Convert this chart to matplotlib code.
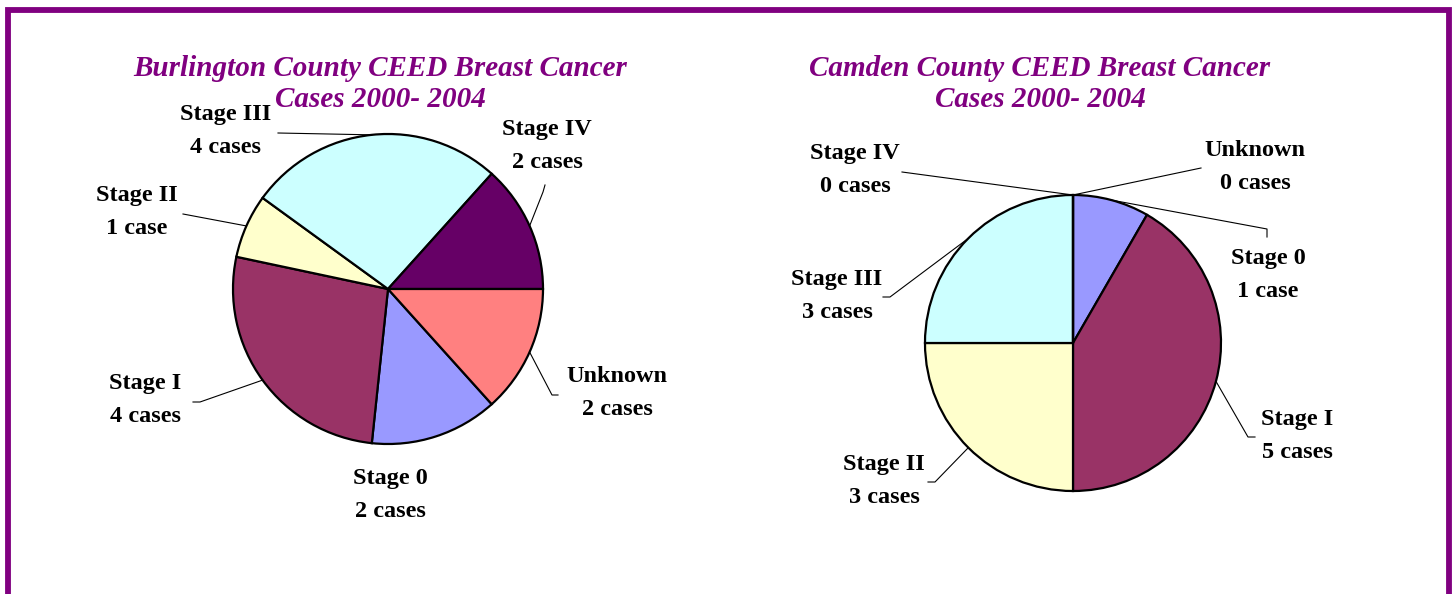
"""Breast cancer stage pies for Burlington and Camden counties."""
import numpy as np
import matplotlib
matplotlib.use("Agg")
import matplotlib.pyplot as plt
from matplotlib.lines import Line2D

# data
stages = ["Stage 0", "Stage I", "Stage II", "Stage III", "Stage IV", "Unknown"]
burlington_cases = [2, 4, 1, 4, 2, 2]
camden_cases = [1, 5, 3, 3, 0, 0]
burlington_title = "Burlington County CEED Breast Cancer\nCases 2000- 2004"
camden_title = "Camden County CEED Breast Cancer\nCases 2000- 2004"

colors = ["#9999FF", "#993366", "#FFFFCC", "#CCFFFF", "#660066", "#FF8080"]
PURPLE = "#800080"
W, H = 1456, 594


def y_(v):
    """image row -> data y (axes spans the whole figure in pixels)"""
    return H - v


def case_text(name, n):
    return f"{name}\n{n} case" if n == 1 else f"{name}\n{n} cases"


def draw_pie(ax, values, center, radius, start, title, title_xy, layout):
    wedges, _ = ax.pie(values, colors=colors, startangle=start, counterclock=False,
                       center=(center[0], y_(center[1])), radius=radius,
                       wedgeprops=dict(edgecolor="black", linewidth=1.6))
    ax.text(title_xy[0], y_(title_xy[1]), title, ha="center", va="center",
            fontsize=21, fontweight="bold", fontstyle="italic", color=PURPLE,
            family="Liberation Serif", linespacing=1.22)
    for w, name, n in zip(wedges, stages, values):
        text_xy, leader = layout[name]
        ax.text(text_xy[0], y_(text_xy[1]), case_text(name, n), ha="center",
                va="center", fontsize=17.5, fontweight="bold",
                family="Liberation Serif", linespacing=1.75)
        if leader:
            mid = np.deg2rad((w.theta1 + w.theta2) / 2)
            ex = center[0] + radius * np.cos(mid)
            ey = y_(center[1]) + radius * np.sin(mid)
            xs = [ex] + [p[0] for p in leader]
            ys = [ey] + [y_(p[1]) for p in leader]
            ax.add_line(Line2D(xs, ys, color="black", linewidth=0.8))


fig = plt.figure(figsize=(W / 100, H / 100), dpi=100)
ax = fig.add_axes([0, 0, 1, 1])

left_layout = {
    "Stage 0": ((390, 495), None),
    "Stage I": ((145, 400), [(200, 402), (193, 402)]),
    "Stage II": ((137, 212), [(183, 214)]),
    "Stage III": ((226, 131), [(278, 133)]),
    "Stage IV": ((547, 146), [(543, 192), (545, 185)]),
    "Unknown": ((617, 393), [(552, 395), (558, 395)]),
}
right_layout = {
    "Stage 0": ((1268, 275), [(1267, 229), (1267, 237)]),
    "Stage I": ((1297, 436), [(1248, 437), (1255, 437)]),
    "Stage II": ((884, 481), [(935, 482), (928, 482)]),
    "Stage III": ((837, 296), [(890, 297), (883, 297)]),
    "Stage IV": ((855, 170), [(902, 172)]),
    "Unknown": ((1255, 167), [(1201, 168)]),
}

draw_pie(ax, burlington_cases, (388, 289), 155, -48, burlington_title,
         (380, 84), left_layout)
draw_pie(ax, camden_cases, (1073, 343), 148, 90, camden_title,
         (1040, 84), right_layout)

# purple frame (top, left, right)
ax.add_line(Line2D([8, 8, 1449, 1449], [0, y_(10), y_(10), 0],
                   color=PURPLE, linewidth=4.2, solid_joinstyle="miter"))

ax.set_xlim(0, W)
ax.set_ylim(0, H)
ax.set_aspect("auto")
ax.axis("off")

fig.savefig("out.png", dpi=100)
